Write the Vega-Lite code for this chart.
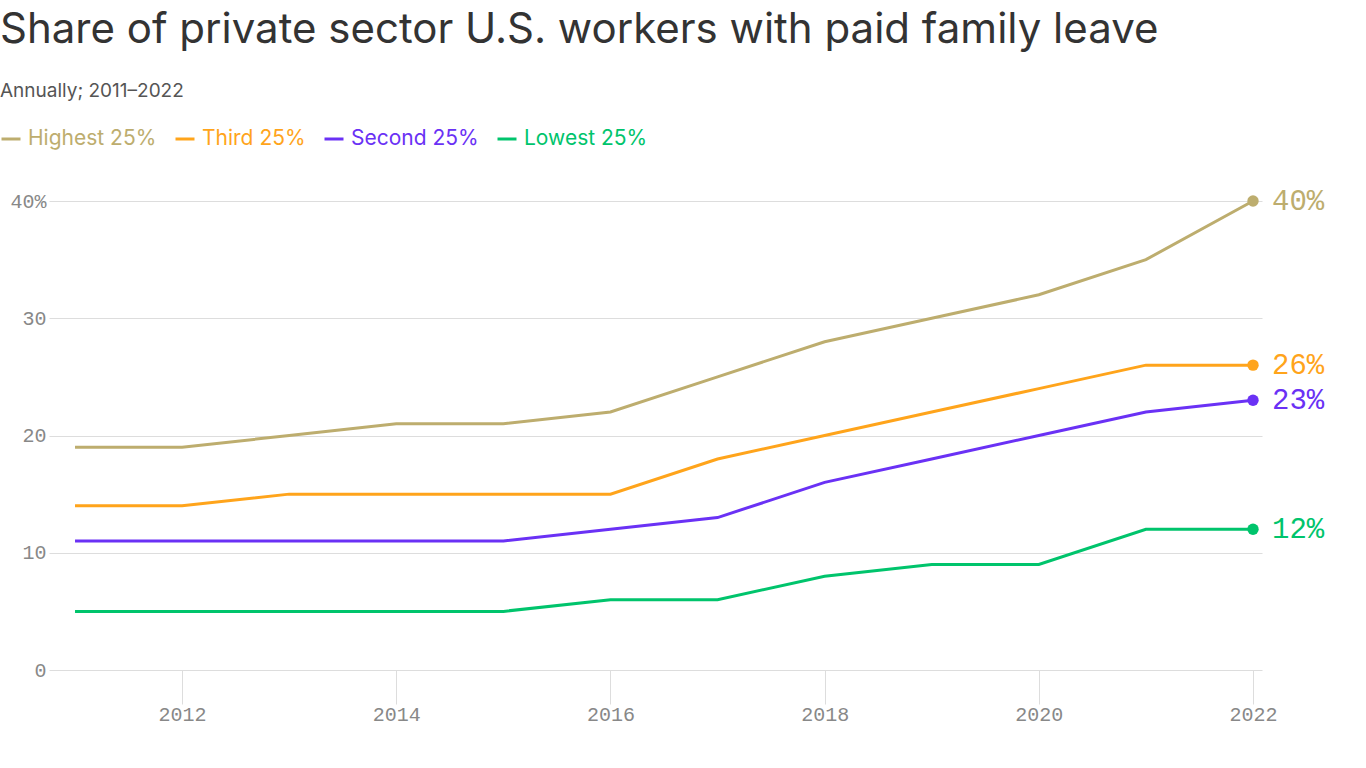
{
  "$schema": "https://vega.github.io/schema/vega-lite/v6.json",
  "autosize": "none",
  "width": 1213,
  "height": 469,
  "padding": {"left": 49, "top": 201, "right": 104, "bottom": 98},
  "background": "white",
  "title": {
    "text": "Share of private sector U.S. workers with paid family leave",
    "subtitle": "Annually; 2011–2022",
    "anchor": "start",
    "frame": "group",
    "dx": -49,
    "offset": 26,
    "font": "Inter",
    "fontSize": 42,
    "fontWeight": 400,
    "color": "#333333",
    "subtitleFont": "Inter",
    "subtitleFontSize": 19,
    "subtitleColor": "#555555",
    "subtitlePadding": 30
  },
  "datasets": {
    "paid": [
      {"year": 2011, "group": "Highest 25%", "value": 19},
      {"year": 2012, "group": "Highest 25%", "value": 19},
      {"year": 2013, "group": "Highest 25%", "value": 20},
      {"year": 2014, "group": "Highest 25%", "value": 21},
      {"year": 2015, "group": "Highest 25%", "value": 21},
      {"year": 2016, "group": "Highest 25%", "value": 22},
      {"year": 2017, "group": "Highest 25%", "value": 25},
      {"year": 2018, "group": "Highest 25%", "value": 28},
      {"year": 2019, "group": "Highest 25%", "value": 30},
      {"year": 2020, "group": "Highest 25%", "value": 32},
      {"year": 2021, "group": "Highest 25%", "value": 35},
      {"year": 2022, "group": "Highest 25%", "value": 40},
      {"year": 2011, "group": "Third 25%", "value": 14},
      {"year": 2012, "group": "Third 25%", "value": 14},
      {"year": 2013, "group": "Third 25%", "value": 15},
      {"year": 2014, "group": "Third 25%", "value": 15},
      {"year": 2015, "group": "Third 25%", "value": 15},
      {"year": 2016, "group": "Third 25%", "value": 15},
      {"year": 2017, "group": "Third 25%", "value": 18},
      {"year": 2018, "group": "Third 25%", "value": 20},
      {"year": 2019, "group": "Third 25%", "value": 22},
      {"year": 2020, "group": "Third 25%", "value": 24},
      {"year": 2021, "group": "Third 25%", "value": 26},
      {"year": 2022, "group": "Third 25%", "value": 26},
      {"year": 2011, "group": "Second 25%", "value": 11},
      {"year": 2012, "group": "Second 25%", "value": 11},
      {"year": 2013, "group": "Second 25%", "value": 11},
      {"year": 2014, "group": "Second 25%", "value": 11},
      {"year": 2015, "group": "Second 25%", "value": 11},
      {"year": 2016, "group": "Second 25%", "value": 12},
      {"year": 2017, "group": "Second 25%", "value": 13},
      {"year": 2018, "group": "Second 25%", "value": 16},
      {"year": 2019, "group": "Second 25%", "value": 18},
      {"year": 2020, "group": "Second 25%", "value": 20},
      {"year": 2021, "group": "Second 25%", "value": 22},
      {"year": 2022, "group": "Second 25%", "value": 23},
      {"year": 2011, "group": "Lowest 25%", "value": 5},
      {"year": 2012, "group": "Lowest 25%", "value": 5},
      {"year": 2013, "group": "Lowest 25%", "value": 5},
      {"year": 2014, "group": "Lowest 25%", "value": 5},
      {"year": 2015, "group": "Lowest 25%", "value": 5},
      {"year": 2016, "group": "Lowest 25%", "value": 6},
      {"year": 2017, "group": "Lowest 25%", "value": 6},
      {"year": 2018, "group": "Lowest 25%", "value": 8},
      {"year": 2019, "group": "Lowest 25%", "value": 9},
      {"year": 2020, "group": "Lowest 25%", "value": 9},
      {"year": 2021, "group": "Lowest 25%", "value": 12},
      {"year": 2022, "group": "Lowest 25%", "value": 12}
    ]
  },
  "data": {"name": "paid"},
  "config": {
    "view": {"stroke": null},
    "axis": {"labelFont": "Liberation Mono", "labelFontSize": 20, "labelColor": "#888888"}
  },
  "encoding": {
    "x": {
      "field": "year",
      "type": "quantitative",
      "scale": {"domain": [2010.757, 2022.084], "nice": false, "zero": false},
      "axis": {
        "title": null,
        "values": [2012, 2014, 2016, 2018, 2020, 2022],
        "format": "d",
        "grid": false,
        "domain": false,
        "ticks": true,
        "tickSize": 34,
        "tickColor": "#dddddd",
        "tickWidth": 1,
        "labelPadding": 0
      }
    },
    "y": {
      "field": "value",
      "type": "quantitative",
      "scale": {"domain": [0, 40], "nice": false},
      "axis": {
        "title": null,
        "values": [0, 10, 20, 30, 40],
        "labelExpr": "datum.value == 40 ? '40%' : datum.label",
        "grid": true,
        "gridColor": "#dddddd",
        "gridWidth": 1,
        "domain": false,
        "ticks": false,
        "labelPadding": 3
      }
    },
    "color": {
      "field": "group",
      "type": "nominal",
      "scale": {
        "domain": ["Highest 25%", "Third 25%", "Second 25%", "Lowest 25%"],
        "range": ["#bdad6e", "#ffa41b", "#6a31f5", "#00c46c"]
      },
      "legend": {
        "title": null,
        "orient": "none",
        "legendX": -49,
        "legendY": -73,
        "direction": "horizontal",
        "columns": 4,
        "symbolType": "stroke",
        "symbolSize": 361,
        "symbolStrokeWidth": 3,
        "labelFont": "Inter",
        "labelFontSize": 21,
        "labelOffset": 6,
        "columnPadding": 12,
        "encode": {
          "labels": {"update": {"fill": {"scale": "color", "field": "value"}}}
        }
      }
    }
  },
  "layer": [
    {"mark": {"type": "line", "strokeWidth": 3}},
    {
      "transform": [{"filter": "datum.year == 2022"}],
      "mark": {"type": "point", "filled": true, "opacity": 1, "size": 130}
    },
    {
      "transform": [{"filter": "datum.year == 2022"}],
      "mark": {
        "type": "text",
        "align": "left",
        "baseline": "middle",
        "dx": 19,
        "font": "Liberation Mono",
        "fontSize": 29,
        "text": {"expr": "datum.value + '%'"}
      }
    }
  ]
}
